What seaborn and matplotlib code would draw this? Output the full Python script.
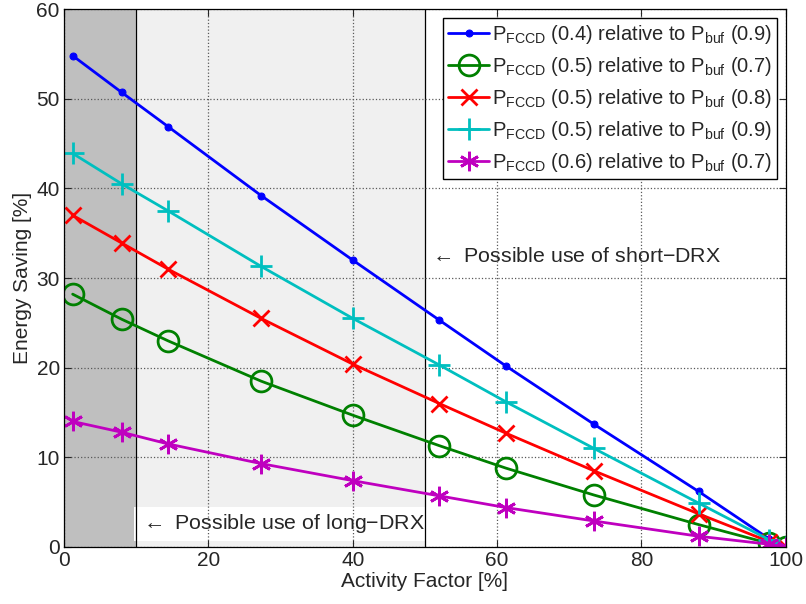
import numpy as np
import pandas as pd
import matplotlib
matplotlib.use("Agg")
import matplotlib.pyplot as plt
import seaborn as sns

sns.set_style("ticks")
plt.rcParams['font.family'] = ['Liberation Sans', 'DejaVu Sans']
plt.rcParams['mathtext.default'] = 'regular'

# activity factor [%]
activity = [1.2, 8.0, 14.4, 27.3, 40.0, 52.0, 61.2, 73.4, 87.9, 97.7, 100.0]

# energy saving [%] per configuration
saving_04_09 = [54.8, 50.7, 46.9, 39.2, 32.0, 25.3, 20.2, 13.7, 6.2, 0.9, 0.0]
saving_05_07 = [28.2, 25.4, 23.0, 18.5, 14.7, 11.3, 8.8, 5.8, 2.5, 0.4, 0.0]
saving_05_08 = [37.0, 33.9, 31.0, 25.5, 20.4, 16.0, 12.7, 8.5, 3.7, 0.6, 0.0]
saving_05_09 = [43.9, 40.5, 37.5, 31.3, 25.5, 20.3, 16.2, 11.0, 4.9, 0.8, 0.0]
saving_06_07 = [14.0, 12.8, 11.5, 9.3, 7.4, 5.7, 4.4, 2.9, 1.2, 0.3, 0.0]

labels = [
    r'P$_{FCCD}$ (0.4) relative to P$_{buf}$ (0.9)',
    r'P$_{FCCD}$ (0.5) relative to P$_{buf}$ (0.7)',
    r'P$_{FCCD}$ (0.5) relative to P$_{buf}$ (0.8)',
    r'P$_{FCCD}$ (0.5) relative to P$_{buf}$ (0.9)',
    r'P$_{FCCD}$ (0.6) relative to P$_{buf}$ (0.7)',
]
series = [saving_04_09, saving_05_07, saving_05_08, saving_05_09, saving_06_07]

styles = [
    dict(color='#0000ff', marker='.', markersize=10),
    dict(color='#008000', marker='o', markersize=15, markerfacecolor='none', markeredgewidth=2),
    dict(color='#ff0000', marker='x', markersize=12, markeredgewidth=2),
    dict(color='#00bfbf', marker='+', markersize=16, markeredgewidth=2),
    dict(color='#bf00bf', marker=(6, 2, 0), markersize=14, markeredgewidth=2),
]

fig = plt.figure(figsize=(8.06, 6.04), dpi=100)
ax = fig.add_axes([0.0794, 0.0944, 0.8956, 0.8906])

# shaded DRX regions
ax.axvspan(0, 10, color='#bfbfbf', zorder=0)
ax.axvspan(10, 50, color='#f0f0f0', zorder=0)
ax.axvline(10, color='black', lw=0.9, zorder=2.5)
ax.axvline(50, color='black', lw=0.9, zorder=2.5)

for vals, lab, st in zip(series, labels, styles):
    sns.lineplot(x=activity, y=vals, ax=ax, label=lab, linewidth=2,
                 markeredgecolor=st['color'], zorder=3, **st)

ax.text(10.4, 2.6, r'$\leftarrow$ Possible use of long$-$DRX', fontsize=15.4,
        va='center', ha='left', zorder=2,
        bbox=dict(facecolor='white', edgecolor='none', pad=4))
ax.text(50.4, 32.4, r'$\leftarrow$ Possible use of short$-$DRX', fontsize=15.4,
        va='center', ha='left', zorder=2,
        bbox=dict(facecolor='white', edgecolor='none', pad=2))

ax.set_xlim(0, 100)
ax.set_ylim(0, 60)
ax.set_xticks(np.arange(0, 101, 20))
ax.set_yticks(np.arange(0, 61, 10))
ax.grid(True, linestyle=':', color='0.35', linewidth=0.9)
ax.set_axisbelow(False)
ax.tick_params(direction='in', top=True, right=True, labelsize=15, length=5, pad=3)
for sp in ax.spines.values():
    sp.set_color('black')
    sp.set_linewidth(0.9)
    sp.set_zorder(4)

ax.set_xlabel('Activity Factor [%]', fontsize=15, labelpad=1)
ax.set_ylabel('Energy Saving [%]', fontsize=15, labelpad=3)

leg = ax.legend(loc='upper right', fontsize=14.5, frameon=True, fancybox=False,
                edgecolor='black', framealpha=1, borderpad=0.25, labelspacing=0.45,
                handlelength=2.0, handletextpad=0.15, borderaxespad=0.45)
leg.get_frame().set_linewidth(1.0)
leg.set_zorder(5)

fig.savefig('out.png', dpi=100)
